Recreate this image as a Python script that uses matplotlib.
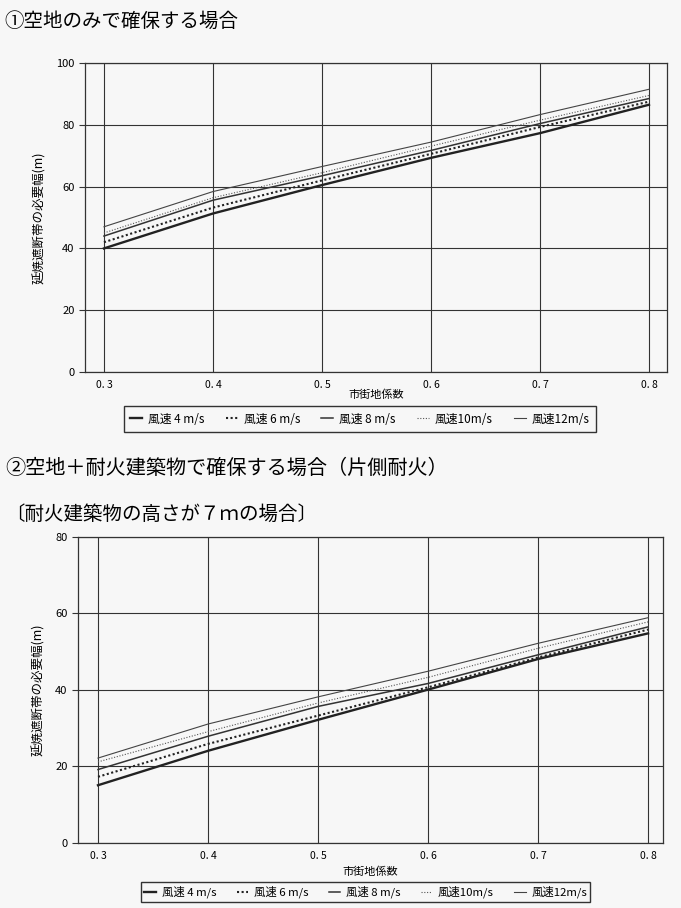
import matplotlib
matplotlib.use("Agg")
import matplotlib.pyplot as plt

plt.rcParams['font.family'] = ['Noto Sans CJK JP', 'DejaVu Sans']

# data
x = [0.3, 0.4, 0.5, 0.6, 0.7, 0.8]
x_labels = ["0. 3", "0. 4", "0. 5", "0. 6", "0. 7", "0. 8"]
series_names = ["風速 4 m/s", "風速 6 m/s", "風速 8 m/s", "風速10m/s", "風速12m/s"]

# chart 1: open space only
c1_w4 = [40.0, 51.3, 60.5, 69.3, 77.3, 86.5]
c1_w6 = [42.0, 53.2, 62.0, 70.6, 79.3, 87.5]
c1_w8 = [44.0, 55.6, 63.5, 71.7, 80.4, 88.5]
c1_w10 = [45.0, 56.4, 64.5, 73.1, 81.5, 89.5]
c1_w12 = [47.0, 58.4, 66.5, 74.4, 83.3, 91.5]

# chart 2: open space + fireproof buildings (7 m)
c2_w4 = [15.1, 24.1, 32.2, 40.1, 48.1, 54.8]
c2_w6 = [17.3, 25.9, 33.3, 40.7, 48.5, 55.8]
c2_w8 = [19.2, 27.9, 35.7, 41.7, 49.2, 56.5]
c2_w10 = [21.2, 29.1, 36.6, 43.3, 50.9, 57.8]
c2_w12 = [22.2, 31.1, 38.2, 44.9, 52.2, 58.9]

# line styles per wind speed
styles = [
    dict(color='#222222', lw=1.7, ls='-'),
    dict(color='#222222', lw=1.5, ls=(0, (1, 1.2))),
    dict(color='#333333', lw=1.1, ls='-'),
    dict(color='#555555', lw=0.8, ls=(0, (1, 1.5))),
    dict(color='#444444', lw=0.8, ls='-'),
]

bg = '#f7f7f7'
fig = plt.figure(figsize=(6.81, 9.08), dpi=100, facecolor=bg)


def draw(ax, data, ymax, xlim, legend_pos, xlabel_y, leg_fs, leg_pad):
    ax.set_facecolor(bg)
    for ys, name, st in zip(data, series_names, styles):
        ax.plot(x, ys, label=name, **st)
    ax.set_xlim(*xlim)
    ax.set_ylim(0, ymax)
    ax.set_xticks(x)
    ax.set_xticklabels(x_labels, fontsize=7.5)
    ax.set_yticks(range(0, ymax + 1, 20))
    ax.tick_params(axis='y', labelsize=8, length=4, width=0.8, color='#333333')
    ax.tick_params(axis='x', length=0, pad=6)
    ax.grid(True, color='#333333', lw=0.8)
    for s in ax.spines.values():
        s.set_color('#333333')
        s.set_linewidth(0.9)
    ax.set_ylabel("延焼遮断帯の必要幅(m)", fontsize=9, labelpad=7)
    fig.text(ax.get_position().x0 + ax.get_position().width * 0.5, xlabel_y,
             "市街地係数", fontsize=8, ha='center', va='center')
    leg = ax.legend(loc='center', bbox_to_anchor=legend_pos,
                    bbox_transform=fig.transFigure, ncol=5, fontsize=leg_fs,
                    handlelength=1.0, handletextpad=0.5, columnspacing=1.8,
                    fancybox=False, framealpha=1, borderpad=leg_pad)
    leg.get_frame().set_edgecolor('#333333')
    leg.get_frame().set_linewidth(1.0)
    leg.get_frame().set_facecolor(bg)


fig.text(0.007, 0.976, "①空地のみで確保する場合", fontsize=14, va='center')
ax1 = fig.add_axes([0.1248, 0.5903, 0.8546, 0.3403])
draw(ax1, [c1_w4, c1_w6, c1_w8, c1_w10, c1_w12], 100, (0.2826, 0.8165),
     (0.5286, 0.5385), 0.565, 8.5, 0.55)

fig.text(0.007, 0.484, "②空地＋耐火建築物で確保する場合（片側耐火）", fontsize=14.5, va='center')
fig.text(0.007, 0.433, "〔耐火建築物の高さが７ｍの場合〕", fontsize=14, va='center')
ax2 = fig.add_axes([0.1145, 0.0716, 0.8591, 0.337])
draw(ax2, [c2_w4, c2_w6, c2_w8, c2_w10, c2_w12], 80, (0.2818, 0.8136),
     (0.537, 0.0176), 0.0396, 8.2, 0.3)

fig.savefig("out.png", dpi=100, facecolor=bg)
